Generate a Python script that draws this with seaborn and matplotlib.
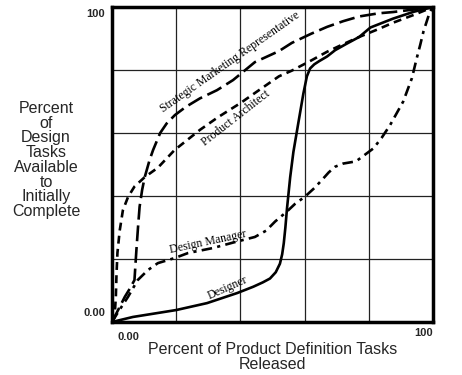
import numpy as np
import pandas as pd
import seaborn as sns
import matplotlib.pyplot as plt

sns.set_style('white')
plt.rcParams['font.family'] = ['Liberation Sans', 'DejaVu Sans']

# curve data (percent released vs percent available)
designer_x = [0, 6.5, 20, 29.6, 39, 44, 47, 49.2, 51, 52.3, 53, 53.5, 54, 54.5, 55.5, 56.5, 58, 59.6,
              60.7, 61.7, 63, 64.5, 67, 69.5, 73, 77, 80.5, 87.5, 94, 100]
designer_y = [0, 1.6, 3.8, 6, 9.2, 11.2, 12.6, 13.8, 15.8, 18.5, 21.5, 25, 30, 36, 46, 54, 63, 72.5,
              78, 80.5, 81.8, 82.8, 84.3, 86.3, 88.3, 90.5, 93.5, 96.3, 98.5, 100]

manager_x = [0, 2, 5, 8, 11.2, 14.3, 19.5, 23.7, 31.5, 38, 44.5, 48, 50.8, 54.4, 57, 60.1, 63, 65.3,
             67.5, 69.5, 72, 76, 81.4, 84, 86.6, 90.7, 93.4, 94.9, 96, 97, 99, 100]
manager_y = [0, 3.3, 8, 13.3, 16.5, 18.7, 20.3, 21.9, 23.5, 25.3, 27, 29, 31.9, 35, 37.5, 39.8, 42.5, 45,
             47.5, 49.3, 50.3, 51, 55.1, 58.5, 62.5, 70, 77.4, 83.7, 88, 92.2, 98.5, 100]

strategic_x = [0, 2, 4, 5.5, 7, 7.6, 8.1, 8.6, 9.4, 10.2, 11.7, 12.8, 15, 17, 19.6, 23, 27.4, 32.7,
               37.7, 44.5, 52, 56, 62, 67, 72, 77, 83, 87.5, 94, 100]
strategic_y = [0, 4, 8, 10.5, 13.3, 22.8, 30, 36.6, 42, 46, 51.4, 54.6, 60, 63, 65.7, 68.3, 71, 73.6,
               76.8, 82.5, 86, 88.6, 91.5, 93.7, 95.5, 97, 98, 98.4, 99.2, 100]

architect_x = [0, 0.8, 1.2, 1.4, 1.7, 2.4, 3.4, 5, 7, 10.2, 14.3, 19.5, 27.4, 33, 40, 44.5, 52, 56,
               62, 67, 72, 77, 83, 87.5, 94, 100]
architect_y = [0, 1.5, 8, 15, 22, 29, 35.5, 39.7, 43, 46, 49, 54.6, 61, 65, 69.5, 72.7, 78, 79.8,
               83, 85.8, 88.2, 90.5, 93, 95, 97.5, 100]

series = [
    ('Strategic Marketing Representative', strategic_x, strategic_y, (0, (6, 2.2))),
    ('Product Architect', architect_x, architect_y, (0, (3, 2))),
    ('Design Manager', manager_x, manager_y, (0, (4, 2, 1.2, 2))),
    ('Designer', designer_x, designer_y, '-'),
]

# label text, position (data) and angle
labels = [
    ('Strategic Marketing Representative', 36.8, 82.5, 35),
    ('Product Architect', 38.6, 64.8, 38),
    ('Design Manager', 30.0, 25.3, 12),
    ('Designer', 36.0, 10.8, 24),
]

fig = plt.figure(figsize=(4.62, 3.75), dpi=100)
ax = fig.add_axes([0.2424, 0.1413, 0.695, 0.84])

for name, xs, ys, ls in series:
    df = pd.DataFrame({'x': xs, 'y': ys})
    sns.lineplot(data=df, x='x', y='y', ax=ax, color='black', lw=1.9,
                 sort=False, estimator=None)
    ax.lines[-1].set_linestyle(ls)

for text, tx, ty, rot in labels:
    ax.text(tx, ty, text, rotation=rot, rotation_mode='anchor', ha='center', va='center',
            family='Liberation Serif', fontsize=8.5, color='black')

ax.set_xlim(0, 100)
ax.set_ylim(0, 100)
ax.set_xticks([20, 40, 60, 80])
ax.set_yticks([20, 40, 60, 80])
ax.grid(True, color='#222222', lw=0.9)
ax.tick_params(length=0, labelbottom=False, labelleft=False)
for s in ax.spines.values():
    s.set_linewidth(2.5)
    s.set_color('black')
ax.set_xlabel('')
ax.set_ylabel('')

# corner tick labels
ax.text(-2.2, 99.5, '100', ha='right', va='top', fontsize=8, fontweight='bold')
ax.text(-2.2, 1.3, '0.00', ha='right', va='bottom', fontsize=8, fontweight='bold')
ax.text(1.6, -3.3, '0.00', ha='left', va='top', fontsize=8, fontweight='bold')
ax.text(99.8, -1.8, '100', ha='right', va='top', fontsize=8, fontweight='bold')

fig.text(46 / 462, 1 - 160 / 375,
         'Percent\nof\nDesign\nTasks\nAvailable\nto\nInitially\nComplete',
         ha='center', va='center', fontsize=11.5, linespacing=0.98)
fig.text(273 / 462, 1 - 357 / 375, 'Percent of Product Definition Tasks\nReleased',
         ha='center', va='center', fontsize=11.5, linespacing=0.95)

fig.savefig('out.png', dpi=100)
